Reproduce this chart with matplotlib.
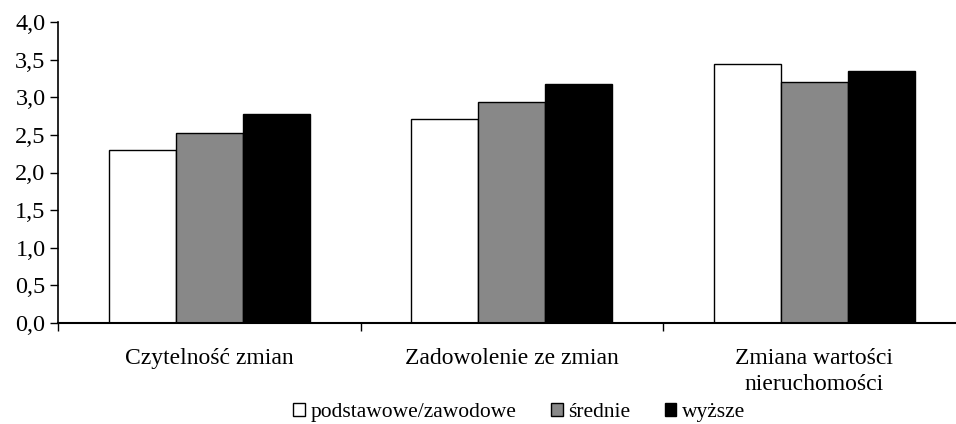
import numpy as np
import matplotlib.pyplot as plt
from matplotlib.ticker import FuncFormatter, FixedLocator
from matplotlib.patches import Patch

plt.rcParams['font.family'] = ['Liberation Serif', 'DejaVu Serif']

# ---- Data ----
categories = ['Czytelność zmian', 'Zadowolenie ze zmian', 'Zmiana wartości\nnieruchomości']
series_names = ['podstawowe/zawodowe', 'średnie', 'wyższe']
podstawowe = [2.30, 2.71, 3.44]
srednie = [2.53, 2.94, 3.20]
wyzsze = [2.78, 3.17, 3.35]
colors = ['white', '#888888', 'black']

# ---- Plotting ----
fig = plt.figure(figsize=(9.56, 4.24), dpi=100)
ax = fig.add_axes([58/956, 101/424, 898/956, 301/424])

x = np.arange(len(categories))
w = 0.2215
for i, (vals, c) in enumerate(zip([podstawowe, srednie, wyzsze], colors)):
    ax.bar(x + (i - 1) * w, vals, width=w, color=c, edgecolor='black', linewidth=1.0)

ax.set_ylim(0, 4.0)
ax.set_yticks(np.arange(0, 4.01, 0.5))
ax.yaxis.set_major_formatter(FuncFormatter(lambda v, p: f'{v:.1f}'.replace('.', ',')))
ax.set_xlim(-0.5, -0.5 + 898/302.5)

ax.set_xticks(x)
ax.set_xticklabels(categories, fontsize=17, linespacing=1.3)
ax.xaxis.set_minor_locator(FixedLocator([-0.5, 0.5, 1.5]))
ax.tick_params(axis='x', which='major', length=0, pad=18)
ax.tick_params(axis='x', which='minor', length=6, width=1, direction='out')
ax.tick_params(axis='y', length=6, width=1, direction='out', labelsize=17.5, pad=3)

for s in ['top', 'right']:
    ax.spines[s].set_visible(False)
ax.spines['left'].set_linewidth(1.2)
ax.spines['bottom'].set_linewidth(1.5)

handles = [Patch(facecolor=c, edgecolor='black', linewidth=1.0) for c in colors]
fig.legend(handles, series_names, loc='lower center', bbox_to_anchor=(0.543, -0.042),
           ncol=3, frameon=False, fontsize=15.5, handlelength=0.55, handleheight=0.55,
           handletextpad=0.25, columnspacing=1.6)

plt.savefig('out.png', dpi=100)
